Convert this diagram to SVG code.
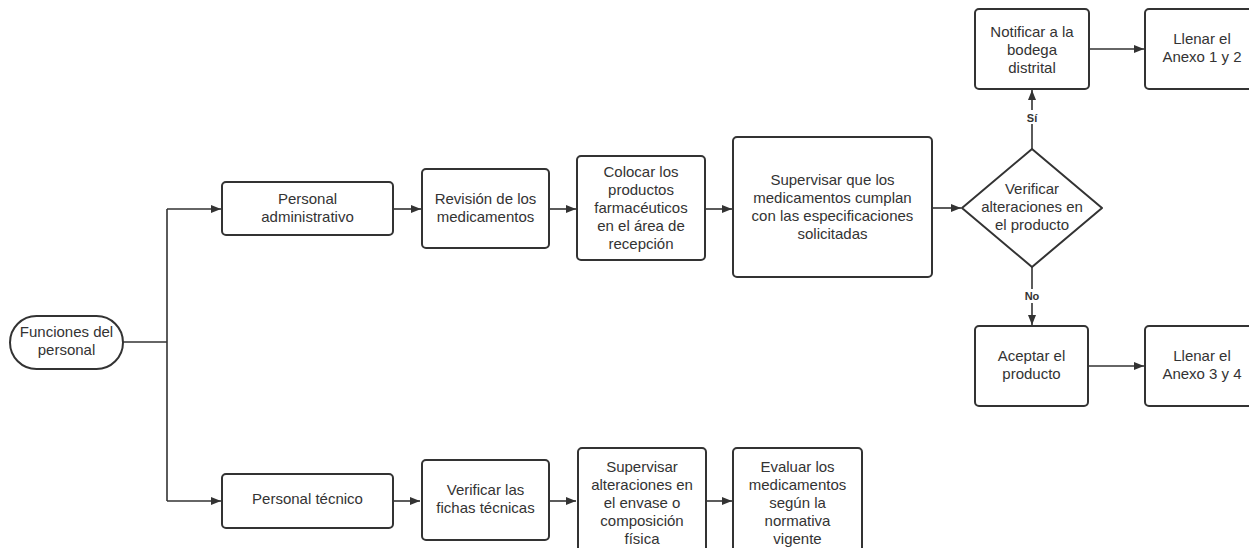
<svg xmlns="http://www.w3.org/2000/svg" width="1249" height="548" viewBox="0 0 1249 548">
<style>
.box{fill:#fff;stroke:#333;stroke-width:2}
.t{font-family:"Liberation Sans",Arial,sans-serif;font-size:15px;fill:#333;text-anchor:middle}
.lb{font-family:"Liberation Sans",Arial,sans-serif;font-size:11px;font-weight:bold;fill:#333;text-anchor:middle}
.c{fill:none;stroke:#333;stroke-width:1.6}
</style>
<defs>
<marker id="a" viewBox="0 0 10 8" refX="10" refY="4" markerWidth="10" markerHeight="8" markerUnits="userSpaceOnUse" orient="auto">
<path d="M0,0 L10,4 L0,8 Z" fill="#333"/>
</marker>
</defs>
<rect width="1249" height="548" fill="#fff"/>
<g id="connectors">
<path class="c" d="M123,342 H167"/>
<path class="c" d="M167,209 V501"/>
<path class="c" d="M167,209 H221" marker-end="url(#a)"/>
<path class="c" d="M167,501 H221" marker-end="url(#a)"/>
<path class="c" d="M393,209 H421" marker-end="url(#a)"/>
<path class="c" d="M549,209 H576" marker-end="url(#a)"/>
<path class="c" d="M705,209 H732" marker-end="url(#a)"/>
<path class="c" d="M932,208 H961" marker-end="url(#a)"/>
<path class="c" d="M1032,149 V90" marker-end="url(#a)"/>
<path class="c" d="M1032,267 V325" marker-end="url(#a)"/>
<path class="c" d="M1089,49 H1144" marker-end="url(#a)"/>
<path class="c" d="M1088,366 H1144" marker-end="url(#a)"/>
<path class="c" d="M393,501 H420" marker-end="url(#a)"/>
<path class="c" d="M549,501 H576" marker-end="url(#a)"/>
<path class="c" d="M706,501 H732" marker-end="url(#a)"/>
<rect x="1022" y="110" width="20" height="14" fill="#fff"/>
<text class="lb" x="1032" y="122">Sí</text>
<rect x="1020" y="289" width="24" height="14" fill="#fff"/>
<text class="lb" x="1032" y="300">No</text>
</g>
<g id="n-funciones">
<rect class="box" x="10" y="316" width="113" height="53" rx="26.5"/>
<text class="t" x="66.5" y="337">Funciones del</text>
<text class="t" x="66.5" y="355">personal</text>
</g>
<g id="n-admin">
<rect class="box" x="222" y="182" width="171" height="53" rx="4"/>
<text class="t" x="307.5" y="204">Personal</text>
<text class="t" x="307.5" y="222">administrativo</text>
</g>
<g id="n-revision">
<rect class="box" x="422" y="169" width="127" height="79" rx="4"/>
<text class="t" x="485.5" y="204">Revisión de los</text>
<text class="t" x="485.5" y="222">medicamentos</text>
</g>
<g id="n-colocar">
<rect class="box" x="577" y="156" width="128" height="104" rx="4"/>
<text class="t" x="641" y="177">Colocar los</text>
<text class="t" x="641" y="195">productos</text>
<text class="t" x="641" y="213">farmacéuticos</text>
<text class="t" x="641" y="231">en el área de</text>
<text class="t" x="641" y="249">recepción</text>
</g>
<g id="n-supervisar">
<rect class="box" x="733" y="137" width="199" height="140" rx="4"/>
<text class="t" x="832.5" y="185">Supervisar que los</text>
<text class="t" x="832.5" y="203">medicamentos cumplan</text>
<text class="t" x="832.5" y="221">con las especificaciones</text>
<text class="t" x="832.5" y="239">solicitadas</text>
</g>
<g id="n-verificar-alt">
<path class="box" d="M1032,149 L1102,208 L1032,267 L962,208 Z" stroke-linejoin="round"/>
<text class="t" x="1032" y="194">Verificar</text>
<text class="t" x="1032" y="212">alteraciones en</text>
<text class="t" x="1032" y="230">el producto</text>
</g>
<g id="n-notificar">
<rect class="box" x="975" y="9" width="114" height="80" rx="4"/>
<text class="t" x="1032" y="37">Notificar a la</text>
<text class="t" x="1032" y="55">bodega</text>
<text class="t" x="1032" y="73">distrital</text>
</g>
<g id="n-anexo12">
<rect class="box" x="1145" y="9" width="114" height="80" rx="4"/>
<text class="t" x="1202" y="44">Llenar el</text>
<text class="t" x="1202" y="62">Anexo 1 y 2</text>
</g>
<g id="n-aceptar">
<rect class="box" x="975" y="326" width="113" height="80" rx="4"/>
<text class="t" x="1031.5" y="361">Aceptar el</text>
<text class="t" x="1031.5" y="379">producto</text>
</g>
<g id="n-anexo34">
<rect class="box" x="1145" y="326" width="114" height="80" rx="4"/>
<text class="t" x="1202" y="361">Llenar el</text>
<text class="t" x="1202" y="379">Anexo 3 y 4</text>
</g>
<g id="n-tecnico">
<rect class="box" x="222" y="474" width="171" height="54" rx="4"/>
<text class="t" x="307.5" y="504">Personal técnico</text>
</g>
<g id="n-fichas">
<rect class="box" x="422" y="460" width="127" height="80" rx="4"/>
<text class="t" x="485.5" y="495">Verificar las</text>
<text class="t" x="485.5" y="513">fichas técnicas</text>
</g>
<g id="n-supervisar-alt">
<rect class="box" x="578" y="448" width="128" height="106" rx="4"/>
<text class="t" x="642" y="472">Supervisar</text>
<text class="t" x="642" y="490">alteraciones en</text>
<text class="t" x="642" y="508">el envase o</text>
<text class="t" x="642" y="526">composición</text>
<text class="t" x="642" y="544">física</text>
</g>
<g id="n-evaluar">
<rect class="box" x="733" y="448" width="129" height="106" rx="4"/>
<text class="t" x="797.5" y="472">Evaluar los</text>
<text class="t" x="797.5" y="490">medicamentos</text>
<text class="t" x="797.5" y="508">según la</text>
<text class="t" x="797.5" y="526">normativa</text>
<text class="t" x="797.5" y="544">vigente</text>
</g>
</svg>
